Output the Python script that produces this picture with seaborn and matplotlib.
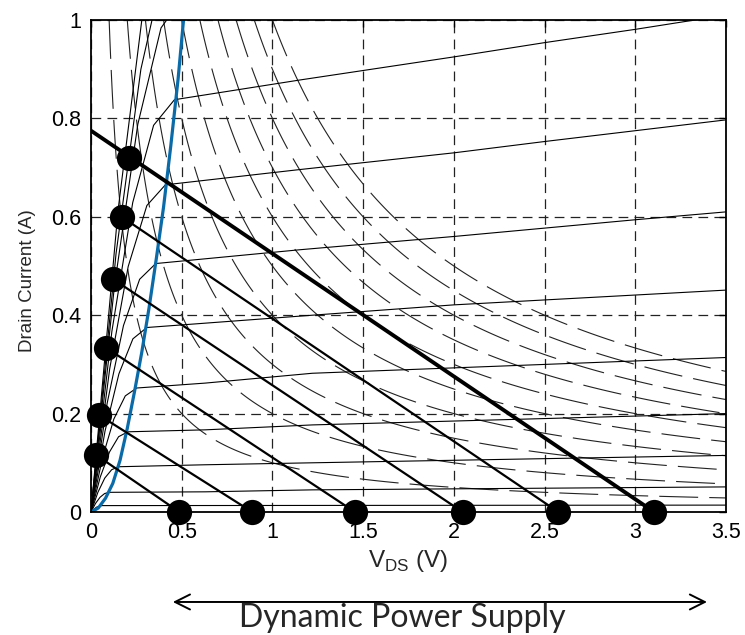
import numpy as np
import pandas as pd
import matplotlib
matplotlib.use("Agg")
import matplotlib.pyplot as plt
import seaborn as sns

# MOSFET output characteristics, one list per gate drive (V_DS in V, I_D in A)
iv_v = [
    [0, 0.149, 0.297],
    [0, 0.138, 0.275, 0.413],
    [0, 0.129, 0.258, 0.386, 0.515],
    [0, 0.115, 0.23, 0.345, 0.46, 1.15, 2.0, 2.5, 3.0, 3.5],
    [0, 0.103, 0.205, 0.308, 0.41, 1.15, 2.0, 2.5, 3.0, 3.5],
    [0, 0.089, 0.179, 0.268, 0.357, 1.15, 2.0, 3.0, 3.5],
    [0, 0.077, 0.154, 0.231, 0.308, 1.22, 2.0, 3.5],
    [0, 0.063, 0.126, 0.189, 0.252, 0.63, 1.22, 3.5],
    [0, 0.051, 0.102, 0.152, 0.203, 0.63, 1.22, 3.5],
    [0, 0.038, 0.076, 0.114, 0.152, 0.63, 1.22, 3.5],
    [0, 0.025, 0.05, 0.075, 0.10, 0.63, 1.22, 3.5],
    [0, 0.03, 0.059, 3.5],
]
iv_i = [
    [0, 0.613, 1.05],
    [0, 0.525, 0.90, 1.125],
    [0, 0.459, 0.788, 0.984, 1.05],
    [0, 0.367, 0.629, 0.786, 0.838, 0.878, 0.925, 0.954, 0.981, 1.01],
    [0, 0.291, 0.499, 0.623, 0.665, 0.696, 0.730, 0.753, 0.775, 0.797],
    [0, 0.221, 0.379, 0.473, 0.505, 0.533, 0.560, 0.594, 0.610],
    [0, 0.164, 0.281, 0.352, 0.375, 0.400, 0.421, 0.451],
    [0, 0.110, 0.189, 0.236, 0.252, 0.262, 0.282, 0.314],
    [0, 0.071, 0.122, 0.153, 0.163, 0.167, 0.177, 0.200],
    [0, 0.040, 0.069, 0.086, 0.092, 0.096, 0.100, 0.115],
    [0, 0.0175, 0.030, 0.0375, 0.040, 0.041, 0.045, 0.051],
    [0, 0.0098, 0.013, 0.014],
]

# saturation boundary (blue)
knee_v = [0, 0.04, 0.08, 0.12, 0.16, 0.20, 0.24, 0.28, 0.32, 0.36, 0.40, 0.44, 0.48, 0.51]
knee_i = [0, 0.008, 0.028, 0.058, 0.105, 0.17, 0.245, 0.325, 0.415, 0.515, 0.62, 0.745, 0.88, 1.0]

# constant power contours (W)
power_levels = [0.1, 0.2, 0.3, 0.4, 0.5, 0.6, 0.7, 0.8, 0.9, 1.0]

# load lines: operating point on the left, supply voltage on the axis
op_v = [0.028, 0.044, 0.083, 0.123, 0.169, 0.211]
op_i = [0.116, 0.197, 0.334, 0.473, 0.600, 0.719]
supply_v = [0.487, 0.889, 1.455, 2.049, 2.576, 3.104]
full_load_i0 = 0.775

sns.set_theme(style="white")
plt.rcParams["font.family"] = ["Liberation Sans", "DejaVu Sans"]
plt.rcParams["lines.scale_dashes"] = False

fig = plt.figure(figsize=(7.45, 6.35), dpi=100)
ax = fig.add_axes([91 / 745, 123 / 635, 635 / 745, 492 / 635])

# power contours
vg, ig = np.meshgrid(np.linspace(0.002, 3.5, 600), np.linspace(0, 1, 600))
cs = ax.contour(vg, ig, vg * ig, levels=power_levels, colors="#222222", linewidths=0.8)
cs.set_linestyle((0, (28, 8)))

# I-V family
rows = []
for k, (vs, cur) in enumerate(zip(iv_v, iv_i)):
    for v, c in zip(vs, cur):
        rows.append({"curve": k, "V": v, "I": c})
iv = pd.DataFrame(rows)
sns.lineplot(data=iv, x="V", y="I", units="curve", estimator=None, sort=False,
             color="black", lw=0.8, legend=False, ax=ax)

# saturation boundary
sns.lineplot(x=knee_v, y=knee_i, sort=False, estimator=None, color="#0b6aa8", lw=2.3, ax=ax)

# load lines
for k in range(len(supply_v)):
    if k == len(supply_v) - 1:
        ax.plot([0, supply_v[k]], [full_load_i0, 0], color="black", lw=2.8, zorder=4)
    else:
        ax.plot([op_v[k], supply_v[k]], [op_i[k], 0], color="black", lw=1.6, zorder=4)

dots = pd.DataFrame({"V": op_v + supply_v, "I": op_i + [0] * len(supply_v)})
sns.scatterplot(data=dots, x="V", y="I", s=330, color="black", edgecolor="black",
                linewidth=0, clip_on=False, zorder=6, ax=ax)

ax.set_xlim(0, 3.5)
ax.set_ylim(0, 1)
ax.set_xticks([0, 0.5, 1, 1.5, 2, 2.5, 3, 3.5])
ax.set_xticklabels(["0", "0.5", "1", "1.5", "2", "2.5", "3", "3.5"])
ax.set_yticks([0, 0.2, 0.4, 0.6, 0.8, 1])
ax.set_yticklabels(["0", "0.2", "0.4", "0.6", "0.8", "1"])
ax.grid(True, color="#222222", lw=0.9, linestyle=(0, (7, 4.5)))
ax.set_axisbelow(True)
ax.tick_params(direction="in", length=5, width=1, top=True, right=True,
               labelsize=15.5, pad=7, colors="black")
for sp in ax.spines.values():
    sp.set_color("black")
    sp.set_linewidth(1.3)

ax.set_xlabel(r"V$_\mathregular{DS}$ (V)", fontsize=17.5, labelpad=4)
ax.set_ylabel("Drain Current (A)", fontsize=13.5)
ax.yaxis.set_label_coords(-0.086, 0.47)

ax.annotate("", xy=(0.949, 0.052), xytext=(0.232, 0.052), xycoords="figure fraction",
            textcoords="figure fraction", annotation_clip=False,
            arrowprops=dict(arrowstyle="<->,head_length=0.9,head_width=0.45",
                            lw=1.4, color="black", shrinkA=0, shrinkB=0))
fig.text(0.54, 0.027, "Dynamic Power Supply", fontsize=23, family=["Lato", "DejaVu Sans"],
         ha="center", va="center")

fig.savefig("out.png", dpi=100)
